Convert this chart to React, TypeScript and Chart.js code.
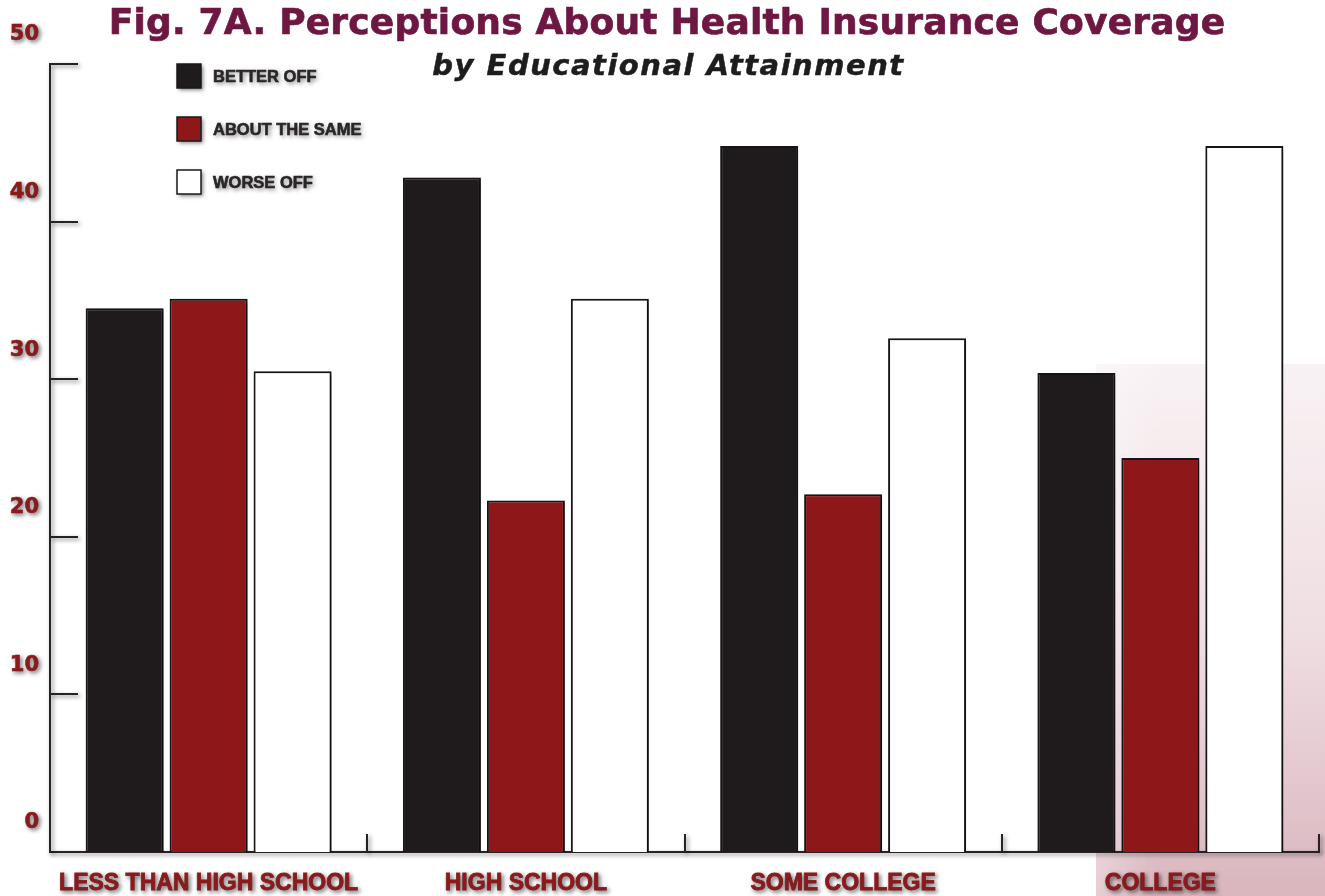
import React, { useEffect, useRef } from "react";
import { Chart, registerables } from "chart.js";

Chart.register(...registerables);

// Survey shares (%) by education level
const categories = ["LESS THAN HIGH SCHOOL", "HIGH SCHOOL", "SOME COLLEGE", "COLLEGE"];
const betterOff = [34.5, 42.8, 44.8, 30.4];
const aboutTheSame = [35.1, 22.3, 22.7, 25.0];
const worseOff = [30.5, 35.1, 32.6, 44.8];
const seriesNames = ["BETTER OFF", "ABOUT THE SAME", "WORSE OFF"];
const yTickValues = [0, 10, 20, 30, 40, 50];

const TITLE = "Fig. 7A. Perceptions About Health Insurance Coverage";
const SUBTITLE = "by Educational Attainment";

const FONT = "'Liberation Sans', Arial, Helvetica, sans-serif";
const WIDE_FONT = "'DejaVu Sans', 'Liberation Sans', sans-serif";
const MAROON = "#6e1742";
const LABEL_RED = "#8c1a1c";
const INK = "#1f1c1d";

// Pink wash behind the last group, then a soft drop shadow for everything drawn after it
const backdropAndShadow = {
  id: "backdropAndShadow",
  beforeDraw(chart: any) {
    const { ctx, width, height } = chart;
    const x0 = 1096;
    const y0 = 364;
    ctx.save();
    const g = ctx.createLinearGradient(0, y0, 0, height);
    g.addColorStop(0, "rgba(175, 90, 110, 0.08)");
    g.addColorStop(0.5, "rgba(175, 90, 110, 0.20)");
    g.addColorStop(1, "rgba(165, 80, 100, 0.42)");
    ctx.fillStyle = g;
    ctx.fillRect(x0, y0, width - x0, height - y0);
    const h = ctx.createLinearGradient(x0, 0, x0 + 60, 0);
    h.addColorStop(0, "rgba(255,255,255,0.35)");
    h.addColorStop(1, "rgba(255,255,255,0)");
    ctx.fillStyle = h;
    ctx.fillRect(x0, y0, 60, height - y0);
    ctx.restore();

    ctx.save();
    ctx.shadowColor = "rgba(0,0,0,0.5)";
    ctx.shadowBlur = 4;
    ctx.shadowOffsetX = 2;
    ctx.shadowOffsetY = 2;
  },
  afterDraw(chart: any) {
    const { ctx } = chart;
    const xs = chart.scales.x;
    const ys = chart.scales.y;
    const area = chart.chartArea;

    ctx.strokeStyle = "#262223";
    ctx.lineWidth = 2;
    // inward tick marks on the value axis
    ctx.beginPath();
    ys.ticks.forEach((t: any) => {
      if (t.value === 0) return;
      const y = Math.round(ys.getPixelForValue(t.value));
      ctx.moveTo(area.left, y);
      ctx.lineTo(area.left + 28, y);
    });
    ctx.stroke();
    // short upward marks at the category boundaries
    const step = xs.getPixelForValue(1) - xs.getPixelForValue(0);
    ctx.beginPath();
    for (let i = 1; i <= categories.length; i++) {
      const x = Math.round(xs.getPixelForValue(i - 1) + step / 2);
      ctx.moveTo(x, area.bottom);
      ctx.lineTo(x, area.bottom - 18);
    }
    ctx.stroke();

    // legend
    const lx = 177;
    const rows = [64, 117, 170];
    chart.data.datasets.forEach((ds: any, i: number) => {
      const y = rows[i];
      ctx.fillStyle = ds.backgroundColor;
      ctx.fillRect(lx, y, 24, 24);
      ctx.save();
      ctx.shadowColor = "rgba(0,0,0,0)";
      ctx.strokeStyle = "#1a1a1a";
      ctx.lineWidth = 1.5;
      ctx.strokeRect(lx, y, 24, 24);
      ctx.restore();
      ctx.fillStyle = "#2a2627";
      ctx.strokeStyle = "#2a2627";
      ctx.lineWidth = 0.6;
      ctx.font = `bold 16.5px ${FONT}`;
      ctx.textBaseline = "middle";
      ctx.textAlign = "left";
      ctx.fillText(ds.label, 213, y + 13);
      ctx.save();
      ctx.shadowColor = "rgba(0,0,0,0)";
      ctx.strokeText(ds.label, 213, y + 13);
      ctx.restore();
    });

    ctx.restore();
  },
};

export default function App() {
  const canvasRef = useRef<HTMLCanvasElement | null>(null);

  useEffect(() => {
    if (!canvasRef.current) return;
    const chart = new Chart(canvasRef.current, {
      type: "bar",
      data: {
        labels: categories,
        datasets: [
          { label: seriesNames[0], data: betterOff, backgroundColor: "#1f1b1c" },
          { label: seriesNames[1], data: aboutTheSame, backgroundColor: "#8e171a" },
          { label: seriesNames[2], data: worseOff, backgroundColor: "#ffffff" },
        ].map((d) => ({
          ...d,
          borderColor: "#1a1617",
          borderWidth: 2,
          categoryPercentage: 0.794,
          barPercentage: 0.929,
        })),
      },
      plugins: [backdropAndShadow],
      options: {
        responsive: false,
        animation: false,
        devicePixelRatio: 1,
        layout: { padding: { top: 64, right: 6, bottom: 0, left: 0 } },
        plugins: {
          legend: { display: false },
          tooltip: { enabled: false },
          title: { display: false },
        },
        scales: {
          x: {
            grid: { display: false, drawTicks: false },
            border: { display: true, color: "#262223", width: 2 },
            ticks: {
              color: LABEL_RED,
              font: { family: FONT, size: 23, weight: "bold" },
              textStrokeColor: LABEL_RED,
              textStrokeWidth: 0.8,
              padding: 18,
              maxRotation: 0,
              autoSkip: false,
            },
            afterFit: (s: any) => {
              s.height = 44;
            },
          },
          y: {
            min: 0,
            max: 50,
            afterBuildTicks: (s: any) => {
              s.ticks = yTickValues.map((v) => ({ value: v }));
            },
            grid: { display: false, drawTicks: false },
            border: { display: true, color: "#262223", width: 2 },
            ticks: {
              color: LABEL_RED,
              font: { family: WIDE_FONT, size: 21, weight: "bold" },
              textStrokeColor: LABEL_RED,
              textStrokeWidth: 0.6,
              padding: 11,
              labelOffset: -29,
              callback: (v: any) => String(v),
            },
            afterFit: (s: any) => {
              s.width = 50;
            },
          },
        },
      },
    });
    return () => chart.destroy();
  }, []);

  return (
    <div style={{ position: "absolute", left: 0, top: 0, width: 1325, height: 896, background: "#ffffff", overflow: "hidden" }}>
      <canvas ref={canvasRef} width={1325} height={896} style={{ position: "absolute", left: 0, top: 0 }} />
      <div
        style={{
          position: "absolute",
          left: 0,
          width: 1334,
          top: 4,
          textAlign: "center",
          fontFamily: WIDE_FONT,
          fontWeight: "bold",
          fontSize: 36,
          lineHeight: 1,
          letterSpacing: 0.2,
          color: MAROON,
          WebkitTextStroke: `0.7px ${MAROON}`,
          whiteSpace: "nowrap",
        }}
      >
        {TITLE}
      </div>
      <div
        style={{
          position: "absolute",
          left: 0,
          width: 1337,
          top: 51,
          textAlign: "center",
          fontFamily: WIDE_FONT,
          fontWeight: "bold",
          fontStyle: "italic",
          fontSize: 29,
          lineHeight: 1,
          letterSpacing: 1.5,
          color: INK,
          WebkitTextStroke: `0.5px ${INK}`,
          whiteSpace: "nowrap",
        }}
      >
        {SUBTITLE}
      </div>
    </div>
  );
}
